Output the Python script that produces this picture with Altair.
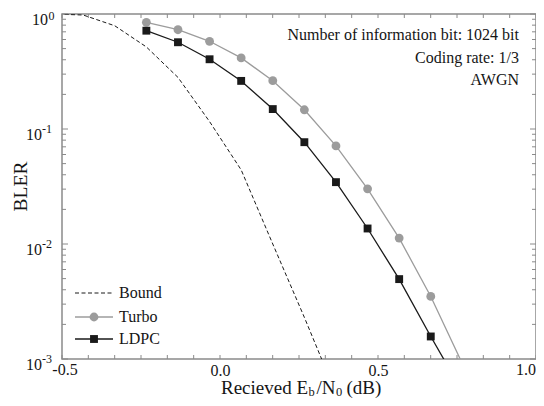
import altair as alt
import pandas as pd

# ---------------- data ----------------
x_vals = [-0.233, -0.133, -0.033, 0.067, 0.167, 0.267, 0.367, 0.467, 0.567, 0.667, 0.767]
turbo_bler = [0.847, 0.73, 0.579, 0.415, 0.263, 0.147, 0.0713, 0.0302, 0.01125, 0.0035, 0.00091]
ldpc_bler = [0.716, 0.568, 0.404, 0.262, 0.149, 0.0768, 0.0345, 0.01364, 0.00495, 0.00157, 0.00052]

bound_x = [-0.533, -0.433, -0.333, -0.233, -0.133, -0.033, 0.067, 0.167, 0.267, 0.367]
bound_bler = [1.0, 0.98, 0.79, 0.517, 0.281, 0.116, 0.0441, 0.0100, 0.0023, 0.00050]

x_label_vals = [0.0, 0.5]
x_first_label = [-0.5]
x_last_label = [1.0]
x_tick_vals = [-0.5, -0.4167, -0.3333, -0.25, -0.1667, -0.0833, 0.0, 0.0833, 0.1667, 0.25,
               0.3333, 0.4167, 0.5, 0.5833, 0.6667, 0.75, 0.8333, 0.9167, 1.0]
y_major_vals = [1.0, 0.1, 0.01, 0.001]
y_neg_vals = [0.1, 0.01, 0.001]
y_neg_exps = ["-1", "-2", "-3"]
y_minor_vals = [0.002, 0.003, 0.004, 0.005, 0.006, 0.007, 0.008, 0.009,
                0.02, 0.03, 0.04, 0.05, 0.06, 0.07, 0.08, 0.09,
                0.2, 0.3, 0.4, 0.5, 0.6, 0.7, 0.8, 0.9]

legend_labels = ["Bound", "Turbo", "LDPC"]
note_lines = ["Number of information bit: 1024 bit", "Coding rate: 1/3", "AWGN"]
title_pieces = ["Recieved E", "b", "/N", "0", "(dB)"]

# ---------------- style ----------------
W, H = 474, 345
FONT = "Liberation Serif"
TXT = "#151515"
FRAME = "#8a8a8a"
GRAY = "#9c9c9c"
BLACK = "#1a1a1a"

xscale = alt.Scale(domain=[-0.5, 1.0], nice=False, zero=False)
yscale = alt.Scale(type="log", domain=[0.001, 1.0], nice=False)

XAXIS = alt.Axis(
    values=x_label_vals, format=".1f",
    labelFlush=False, ticks=False, domain=False,
    grid=False, labelFont=FONT, labelFontSize=16, labelColor=TXT, labelPadding=3)
YAXIS = alt.Axis(
    values=y_major_vals, labels=False, ticks=False, domain=False, grid=False,
    titleFont=FONT, titleFontSize=19.5, titleFontWeight="normal",
    titleColor=TXT, titleX=-42, titleY=172, titleAngle=270, titleAlign="center",
    titleBaseline="middle")


def X(field):
    return alt.X(field, scale=xscale, axis=XAXIS, title=None)


def Y(field):
    return alt.Y(field, scale=yscale, axis=YAXIS, title="BLER")


bound_df = pd.DataFrame({"x": bound_x, "v": bound_bler})
turbo_df = pd.DataFrame({"x": x_vals, "v": turbo_bler})
ldpc_df = pd.DataFrame({"x": x_vals, "v": ldpc_bler})

bound = alt.Chart(bound_df).mark_line(
    color=BLACK, strokeWidth=1, strokeDash=[4, 2.5], clip=True
).encode(x=X("x:Q"), y=Y("v:Q"))


def series(df, color, shape, size):
    line = alt.Chart(df).mark_line(color=color, strokeWidth=1.3, clip=True).encode(
        x=X("x:Q"), y=Y("v:Q"))
    pts = alt.Chart(df).mark_point(shape=shape, filled=True, size=size, color=color,
                                   opacity=1, clip=True).encode(x=X("x:Q"), y=Y("v:Q"))
    return line + pts


turbo = series(turbo_df, GRAY, "circle", 78)
ldpc = series(ldpc_df, BLACK, "square", 62)

# inward ticks on all four sides
xt = pd.DataFrame({"x": x_tick_vals})
ymaj = pd.DataFrame({"v": y_major_vals})
ymin = pd.DataFrame({"v": y_minor_vals})
tick_style = dict(color=FRAME, strokeWidth=1)
ticks = alt.Chart(xt).mark_rule(**tick_style).encode(
    x=X("x:Q"), y=alt.value(H), y2=alt.value(H - 4))
ticks += alt.Chart(xt).mark_rule(**tick_style).encode(
    x=X("x:Q"), y=alt.value(0), y2=alt.value(4))
for df, ln in ((ymaj, 6), (ymin, 4)):
    ticks += alt.Chart(df).mark_rule(**tick_style).encode(
        y=Y("v:Q"), x=alt.value(0), x2=alt.value(ln))
    ticks += alt.Chart(df).mark_rule(**tick_style).encode(
        y=Y("v:Q"), x=alt.value(W), x2=alt.value(W - ln))

# end x labels drawn as text so they stay clear of neighbours / canvas edge
end_labs = alt.Chart(pd.DataFrame({"x": x_first_label, "t": ["-0.5"]})).mark_text(
    align="center", baseline="top", font=FONT, fontSize=16, color=TXT, dx=3
).encode(x=X("x:Q"), y=alt.value(H + 3), text="t:N")
end_labs += alt.Chart(pd.DataFrame({"x": x_last_label, "t": ["1.0"]})).mark_text(
    align="right", baseline="top", font=FONT, fontSize=16, color=TXT
).encode(x=X("x:Q"), y=alt.value(H + 3), text="t:N")

# y tick labels as 10 with superscript exponent
neg_df = pd.DataFrame({"v": y_neg_vals, "e": y_neg_exps})
zero_df = pd.DataFrame({"v": [1.0], "e": ["0"]})
ylabs = alt.Chart(neg_df).mark_text(align="right", baseline="middle", font=FONT, fontSize=16,
                                    color=TXT, dy=5.5).encode(
    y=Y("v:Q"), x=alt.value(-20), text=alt.value("10"))
ylabs += alt.Chart(neg_df).mark_text(align="left", baseline="middle", font=FONT, fontSize=12,
                                     color=TXT, dy=-0.5).encode(
    y=Y("v:Q"), x=alt.value(-20), text="e:N")
ylabs += alt.Chart(zero_df).mark_text(align="right", baseline="middle", font=FONT, fontSize=16,
                                      color=TXT, dy=6).encode(
    y=Y("v:Q"), x=alt.value(-14), text=alt.value("10"))
ylabs += alt.Chart(zero_df).mark_text(align="left", baseline="middle", font=FONT, fontSize=12,
                                      color=TXT, dy=1.5).encode(
    y=Y("v:Q"), x=alt.value(-13.5), text="e:N")

# legend (manual, bottom-left)
leg_rows = [279, 303, 325]
styles = [
    dict(color=BLACK, strokeWidth=1, strokeDash=[4, 2.5]),
    dict(color=GRAY, strokeWidth=1.3),
    dict(color=BLACK, strokeWidth=1.3),
]
shapes = [None, ("circle", 78, GRAY), ("square", 62, BLACK)]
leg = None
for lab, yy, st, shp in zip(legend_labels, leg_rows, styles, shapes):
    d = pd.DataFrame({"label": [lab]})
    part = alt.Chart(d).mark_rule(**st).encode(x=alt.value(13), x2=alt.value(51), y=alt.value(yy))
    if shp is not None:
        part += alt.Chart(d).mark_point(shape=shp[0], filled=True, size=shp[1], color=shp[2],
                                        opacity=1).encode(x=alt.value(32), y=alt.value(yy))
    part += alt.Chart(d).mark_text(align="left", baseline="middle", font=FONT, fontSize=16,
                                   color=TXT).encode(x=alt.value(57), y=alt.value(yy),
                                                     text="label:N")
    leg = part if leg is None else leg + part

# annotation in the upper right
notes = None
for line, yy in zip(note_lines, [21, 44, 66]):
    d = pd.DataFrame({"t": [line]})
    c = alt.Chart(d).mark_text(align="right", baseline="middle", font=FONT, fontSize=16,
                               color=TXT).encode(x=alt.value(457), y=alt.value(yy), text="t:N")
    notes = c if notes is None else notes + c

# x-axis title with subscripts
title_layout = [
    (title_pieces[0], "right", 246, 379.5, 19),
    (title_pieces[1], "left", 246.5, 382, 12.5),
    (title_pieces[2], "left", 254.5, 379.5, 19),
    (title_pieces[3], "left", 274, 382, 12.5),
    (title_pieces[4], "left", 284.5, 379.5, 19),
]
xtitle = None
for txt, al, xx, yy, fs in title_layout:
    d = pd.DataFrame({"t": [txt]})
    c = alt.Chart(d).mark_text(align=al, baseline="alphabetic", font=FONT, fontSize=fs,
                               color=TXT).encode(x=alt.value(xx), y=alt.value(yy), text="t:N")
    xtitle = c if xtitle is None else xtitle + c

chart = alt.layer(bound, turbo, ldpc, ticks, end_labs, ylabs, leg, notes, xtitle).properties(
    width=W, height=H,
    autosize=alt.AutoSizeParams(type="none"),
    padding={"left": 54, "top": 6, "right": 0, "bottom": 39},
    background="white",
).configure_view(stroke=FRAME, strokeWidth=1.5)

chart.save("out.html", embed_options={"renderer": "svg", "actions": False})
